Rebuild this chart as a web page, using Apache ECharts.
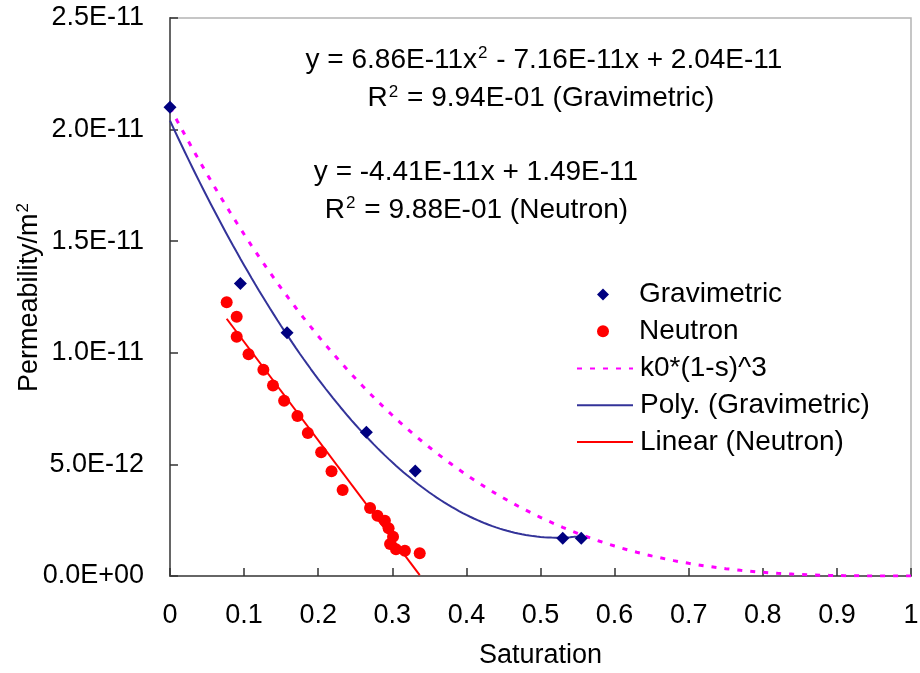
<!DOCTYPE html>
<html>
<head>
<meta charset="utf-8">
<script src="https://cdn.jsdelivr.net/npm/echarts@6/dist/echarts.min.js"></script>
<style>
  html, body { margin: 0; background: #fff; }
  #chart { width: 920px; height: 673px; }
</style>
</head>
<body>
<div id="chart"></div>
<script>
// gravimetric measurements
var gravSat = [0, 0.095, 0.158, 0.265, 0.331, 0.530, 0.555]
var gravPerm = [2.10e-11, 1.31e-11, 1.09e-11, 0.644e-11, 0.470e-11, 0.169e-11, 0.169e-11]

// neutron measurements
var neutSat = [0.0765, 0.090, 0.090, 0.106, 0.126, 0.139, 0.154, 0.172, 0.186, 0.204, 0.218,
  0.233, 0.270, 0.280, 0.290, 0.295, 0.301, 0.297, 0.305, 0.317, 0.337]
var neutPerm = [1.226e-11, 1.162e-11, 1.072e-11, 0.993e-11, 0.924e-11, 0.854e-11, 0.785e-11,
  0.717e-11, 0.641e-11, 0.554e-11, 0.469e-11, 0.385e-11, 0.305e-11, 0.270e-11, 0.248e-11,
  0.214e-11, 0.176e-11, 0.143e-11, 0.120e-11, 0.113e-11, 0.102e-11]

// trendline coefficients as printed on the chart
var polyCoef = [6.86e-11, -7.16e-11, 2.04e-11]   // a*x^2 + b*x + c
var linCoef = [-4.41e-11, 1.49e-11]              // m*x + c
var k0 = 2.1e-11                                 // k0*(1-s)^3

var pointNames = ['Gravimetric', 'Neutron']
var lineNames = ['k0*(1-s)^3', 'Poly. (Gravimetric)', 'Linear (Neutron)']

var FONT = '"Liberation Sans", Arial, sans-serif'

function zip(xs, ys) {
  return xs.map(function(x, i) { return [x, ys[i]] })
}

// curves drawn from the equations shown on the chart
function curve(from, to, step, fn) {
  var pts = []
  for (var s = from; s <= to + 1e-9; s += step) pts.push([s, fn(s)])
  return pts
}
var modelCurve = curve(0, 1, 0.01, function(s) { return k0 * Math.pow(1 - s, 3) })
var polyCurve = curve(0, Math.max.apply(null, gravSat), 0.005, function(s) {
  return polyCoef[0] * s * s + polyCoef[1] * s + polyCoef[2]
})
var linLine = [Math.min.apply(null, neutSat), Math.max.apply(null, neutSat)].map(function(s) {
  return [s, linCoef[0] * s + linCoef[1]]
})

function sci(v) {
  if (Math.abs(v) < 1e-20) return '0.0E+00'
  var p = v.toExponential(1).toUpperCase().split('E')
  var e = parseInt(p[1], 10)
  var es = (e < 0 ? '-' : '+') + (Math.abs(e) < 10 ? '0' : '') + Math.abs(e)
  return p[0] + 'E' + es
}

var chart = echarts.init(document.getElementById('chart'))

var supStyle = { fontSize: 17, fontFamily: FONT, color: '#000', fill: '#000', verticalAlign: 'top', lineHeight: 30, padding: [0, 1, 0, 1] }

var annText = function(txt, x, y) {
  return {
    type: 'text', x: x, y: y, z: 10,
    style: {
      text: txt, font: '28px ' + FONT, fill: '#000', align: 'center', verticalAlign: 'middle',
      rich: { sup: supStyle }
    }
  }
}

var legendText = function(padLeft) {
  return { fontSize: 28, lineHeight: 28, color: '#000', fontFamily: FONT, padding: [0, 0, 0, padLeft] }
}

var option = {
  backgroundColor: '#fff',
  animation: false,
  textStyle: { fontFamily: FONT },
  grid: {
    left: 170, right: 9, top: 18, bottom: 97,
    outerBoundsMode: 'none', containLabel: false,
    show: true, borderColor: '#b4b4b4', borderWidth: 1.5
  },
  legend: [
    {
      data: pointNames,
      orient: 'vertical', padding: 0,
      left: 597, top: 280.5,
      itemWidth: 12, itemHeight: 12, itemGap: 8.7,
      textStyle: legendText(25)
    },
    {
      data: lineNames.map(function(n) { return { name: n, itemStyle: { opacity: 0 } } }),
      orient: 'vertical', padding: 0,
      left: 576, top: 354.5,
      itemWidth: 56, itemHeight: 12, itemGap: 8.7,
      textStyle: legendText(2)
    }
  ],
  xAxis: {
    type: 'value', min: 0, max: 1, interval: 0.1,
    name: 'Saturation', nameLocation: 'middle', nameGap: 66,
    nameTextStyle: { fontSize: 27, color: '#000', fontFamily: FONT },
    axisLine: { lineStyle: { color: '#666', width: 2 } },
    axisTick: { inside: true, length: 8, lineStyle: { color: '#333', width: 1.5 } },
    axisLabel: { fontSize: 27, color: '#000', margin: 26, fontFamily: FONT,
      formatter: function(v) { return String(+v.toFixed(1)) } },
    splitLine: { show: false }
  },
  yAxis: {
    type: 'value', min: 0, max: 2.5e-11, interval: 5e-12,
    name: 'Permeability/m{sup|2}', nameLocation: 'middle', nameGap: 125, nameMoveOverlap: false,
    nameTextStyle: { fontSize: 27, lineHeight: 30, color: '#000', fontFamily: FONT, rich: { sup: supStyle } },
    axisLine: { lineStyle: { color: '#666', width: 2 } },
    axisTick: { inside: true, length: 8, lineStyle: { color: '#333', width: 1.5 } },
    axisLabel: { fontSize: 27, color: '#000', margin: 26, fontFamily: FONT, formatter: sci },
    splitLine: { show: false }
  },
  graphic: [
    annText('y = 6.86E-11x{sup|2} - 7.16E-11x + 2.04E-11', 544, 60),
    annText('R{sup|2} = 9.94E-01 (Gravimetric)', 541, 98.5),
    annText('y = -4.41E-11x + 1.49E-11', 476, 172),
    annText('R{sup|2} = 9.88E-01 (Neutron)', 476.5, 210)
  ],
  series: [
    {
      name: 'k0*(1-s)^3', type: 'line', data: modelCurve, showSymbol: false, symbol: 'none',
      lineStyle: { color: '#ff00ff', width: 3, type: [5, 8] }, itemStyle: { color: '#ff00ff' }, z: 2
    },
    {
      name: 'Poly. (Gravimetric)', type: 'line', data: polyCurve, showSymbol: false, symbol: 'none',
      lineStyle: { color: '#333399', width: 2 }, itemStyle: { color: '#333399' }, z: 2
    },
    {
      name: 'Linear (Neutron)', type: 'line', data: linLine, showSymbol: false, symbol: 'none',
      lineStyle: { color: '#ff0000', width: 2 }, itemStyle: { color: '#ff0000' }, z: 2
    },
    {
      name: 'Gravimetric', type: 'scatter', data: zip(gravSat, gravPerm),
      symbol: 'diamond', symbolSize: 13, itemStyle: { color: '#000080', opacity: 1 }, z: 4
    },
    {
      name: 'Neutron', type: 'scatter', data: zip(neutSat, neutPerm),
      symbol: 'circle', symbolSize: 12, itemStyle: { color: '#ff0000', opacity: 1 }, z: 3
    }
  ]
}
chart.setOption(option)
</script>
</body>
</html>
